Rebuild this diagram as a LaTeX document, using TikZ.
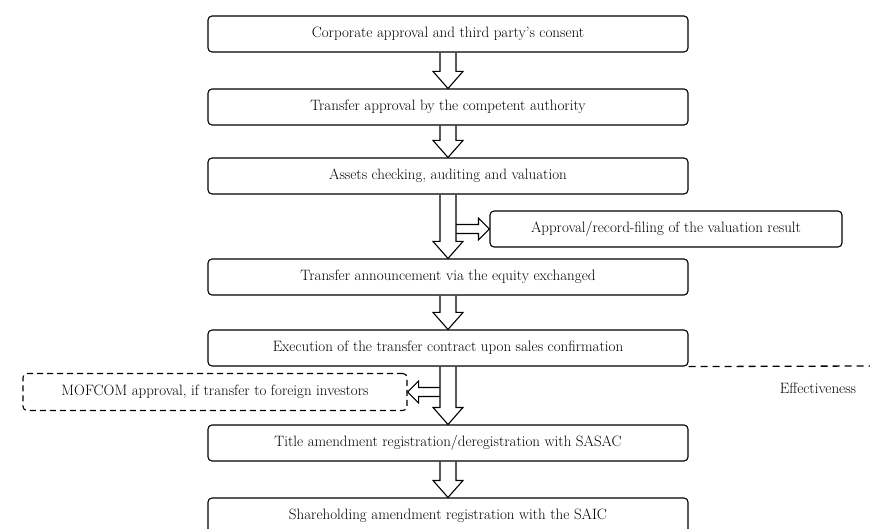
\documentclass[tikz,border=0pt]{standalone}
\usepackage{amsmath,amssymb}
\usepackage{xcolor}
\usepackage{tikz}
\usetikzlibrary{calc}

\begin{document}
\begin{tikzpicture}[x=1pt, y=-1pt,
  every node/.style={font=\fontsize{15}{18}\selectfont},
  stage/.style={draw, rounded corners=4pt, line width=1.1pt, minimum width=480pt, minimum height=36pt, inner sep=0pt},
  sidebox/.style={stage, minimum width=352pt},
  optbox/.style={stage, dashed, dash pattern=on 6pt off 4pt, minimum width=384pt, minimum height=37pt},
  hollow/.style n args={3}{line width=1.1pt, to path={
    ($(\tikztostart)!#1!90:(\tikztotarget)$)
    -- ($(\tikztotarget)!#3!(\tikztostart)!#1!-90:(\tikztostart)$)
    -- ($(\tikztotarget)!#3!(\tikztostart)!#2!-90:(\tikztostart)$)
    -- (\tikztotarget)
    -- ($(\tikztotarget)!#3!(\tikztostart)!#2!90:(\tikztostart)$)
    -- ($(\tikztotarget)!#3!(\tikztostart)!#1!90:(\tikztostart)$)
    -- ($(\tikztostart)!#1!-90:(\tikztotarget)$)}},
  mainarrow/.style={hollow={8pt}{15pt}{17pt}},
  branch/.style={hollow={4.5pt}{11pt}{11pt}}]
  \useasboundingbox (0,0) rectangle (870,529);

  \node[stage] (b1) at (448,34)  {Corporate approval and third party's consent};
  \node[stage] (b2) at (448,107) {Transfer approval by the competent authority};
  \node[stage] (b3) at (448,176) {Assets checking, auditing and valuation};
  \node[sidebox] (side) at (666,229) {Approval/record-filing of the valuation result};
  \node[stage] (b4) at (448,277) {Transfer announcement via the equity exchanged};
  \node[stage] (b5) at (448,348) {Execution of the transfer contract upon sales confirmation};
  \node[optbox] (mof) at (215,392) {MOFCOM approval, if transfer to foreign investors};
  \node[stage] (b6) at (448,443) {Title amendment registration/deregistration with SASAC};
  \node[stage] (b7) at (448,516) {Shareholding amendment registration with the SAIC};
  \node (eff) at (818,388) {Effectiveness};

  \coordinate (j1) at ([xshift=8pt]b3.south |- side.west);
  \coordinate (j2) at ([xshift=-8pt]b5.south |- mof.east);
  \coordinate (edge) at (870,366);

  \draw[mainarrow] (b1.south) to (b2.north);
  \draw[mainarrow] (b2.south) to (b3.north);
  \draw[mainarrow] (b3.south) to (b4.north);
  \draw[branch] (j1) to (side.west);
  \draw[mainarrow] (b4.south) to (b5.north);
  \draw[mainarrow] (b5.south) to (b6.north);
  \draw[branch] (j2) to (mof.east);
  \draw[mainarrow] (b6.south) to (b7.north);
  \draw[line width=1.3pt, dash pattern=on 7pt off 5pt] (b5.south east) -- (edge);
\end{tikzpicture}
\end{document}
